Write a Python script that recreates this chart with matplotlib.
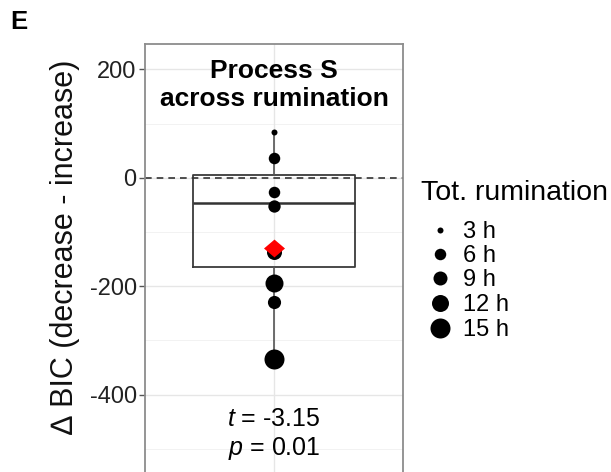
import matplotlib
matplotlib.use("Agg")
import matplotlib.pyplot as plt
import numpy as np

plt.rcParams['font.family'] = ['Liberation Sans', 'DejaVu Sans']
plt.rcParams['mathtext.fontset'] = 'custom'
plt.rcParams['mathtext.it'] = 'Liberation Sans:italic'
plt.rcParams['mathtext.rm'] = 'Liberation Sans'

# ---- data ----
delta_bic = [85, 37, -26, -52, -137, -195, -230, -335]
rumination_h = [3, 6, 6, 7, 10, 13, 8, 15]
box_q1 = -164
box_median = -47
box_q3 = 5
whisker_low = -335
whisker_high = 85
mean_value = -130
legend_hours = [3, 6, 9, 12, 15]
legend_labels = ["3 h", "6 h", "9 h", "12 h", "15 h"]
legend_title = "Tot. rumination"
y_ticks = [200, 0, -200, -400]
t_stat = "-3.15"
p_val = "0.01"

# size mapping (pixel diameter)
size_hours = [3, 6, 9, 12, 15]
size_px = [6, 11.5, 14, 17, 20]
def diam_pt(h):
    return np.interp(h, size_hours, size_px) * 0.72

fig = plt.figure(figsize=(6.11, 4.72), dpi=100)
ax = fig.add_axes([145/611, 0, 258/611, 1 - 44/472])
ax.set_xlim(0, 2)
ax.set_ylim(-543, 247)

# grid
for y in [100, -100, -300, -500]:
    ax.axhline(y, color='#F2F2F2', lw=0.7, zorder=0)
for y in y_ticks:
    ax.axhline(y, color='#E6E6E6', lw=1.0, zorder=0)
ax.axvline(1, color='#E6E6E6', lw=1.0, zorder=0)

# boxplot from stats
stats = [dict(med=box_median, q1=box_q1, q3=box_q3, whislo=whisker_low,
              whishi=whisker_high, fliers=[])]
ax.bxp(stats, positions=[1], widths=1.256, showcaps=False, showfliers=False,
       boxprops=dict(color='#3A3A3A', lw=1.3),
       medianprops=dict(color='#333333', lw=1.8),
       whiskerprops=dict(color='#555555', lw=1.2), manage_ticks=False)

ax.axhline(0, color='#333333', lw=1.2, ls=(0, (4, 3)), zorder=2)

# points
for v, h in zip(delta_bic, rumination_h):
    d = diam_pt(h)
    ax.scatter([1], [v], s=d**2, color='black', zorder=3, lw=0)
diamond = [(-1, 0), (0, 0.85), (1, 0), (0, -0.85), (-1, 0)]
ax.scatter([1], [mean_value], marker=diamond, s=(21*0.72)**2,
           color='#FF0000', zorder=4, lw=0)

# texts
ax.text(1, 172, "Process S\nacross rumination", ha='center', va='center',
        fontsize=19, fontweight='bold', linespacing=1.22)
ax.text(1, -446, "$t$ = " + t_stat, ha='center', va='center', fontsize=18)
ax.text(1, -500, "$p$ = " + p_val, ha='center', va='center', fontsize=18)

ax.set_yticks(y_ticks)
ax.set_yticklabels([str(t) for t in y_ticks], fontsize=17, color='#222222')
ax.set_xticks([])
ax.tick_params(axis='y', length=4, width=1, color='#555555', pad=2)
for s in ['left', 'top', 'right']:
    ax.spines[s].set_color('#8C8C8C')
    ax.spines[s].set_linewidth(1.3)
ax.spines['bottom'].set_visible(False)

fig.text(65/611, 1 - 247/472, "\u2206 BIC (decrease - increase)", rotation=90,
         ha='center', va='center', fontsize=22, color='#111111')
fig.text(19/611, 1 - 22/472, "E", ha='center', va='center', fontsize=18.5,
         fontweight='bold')

# legend drawn in a pixel-coordinate overlay
lax = fig.add_axes([0, 0, 1, 1])
lax.set_xlim(0, 611)
lax.set_ylim(472, 0)
lax.axis('off')
lax.text(421, 193, legend_title, ha='left', va='center', fontsize=20.5)
row_y = [230, 254, 278, 303, 328]
for yy, h, lab in zip(row_y, legend_hours, legend_labels):
    lax.scatter([440], [yy], s=diam_pt(h)**2, color='black', lw=0)
    lax.text(463, yy + 2, lab, ha='left', va='center', fontsize=17)

fig.savefig("out.png", dpi=100)
